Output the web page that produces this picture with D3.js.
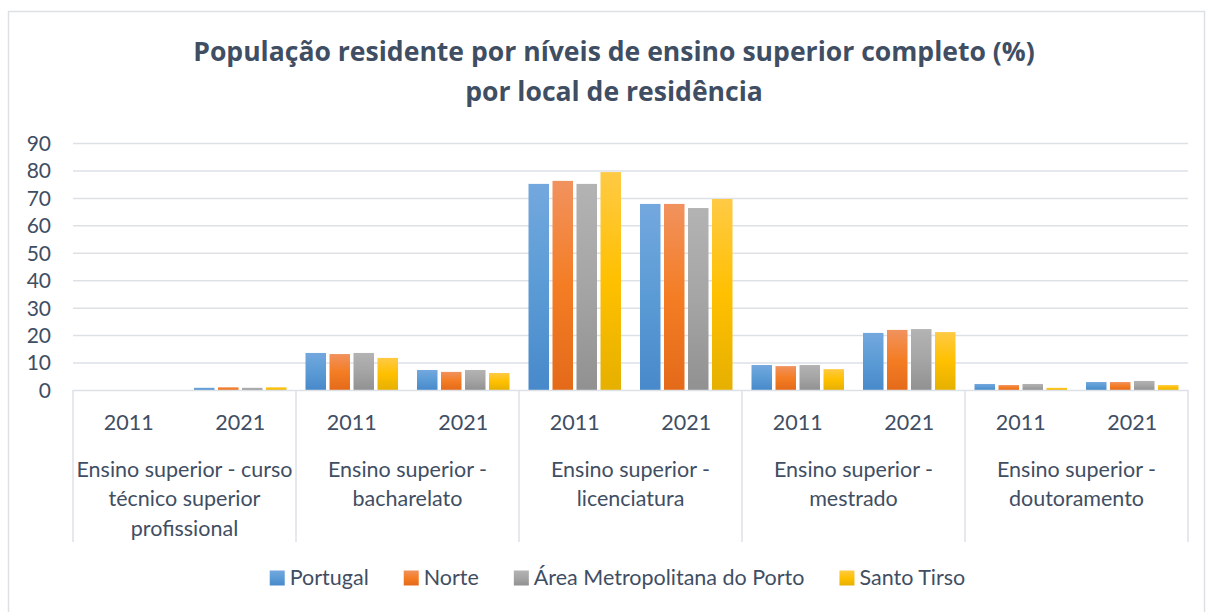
<!DOCTYPE html>
<html>
<head>
<meta charset="utf-8">
<script src="https://cdn.jsdelivr.net/npm/d3@7"></script>
<style>
  html, body { margin: 0; padding: 0; background: #fff; }
  svg { display: block; }
  text { font-family: Lato, "Liberation Sans", sans-serif; fill: #3f4e63; }
</style>
</head>
<body>
<svg id="chart" width="1208" height="612"></svg>
<script>
// ---- data ----
const groups = [
  "Ensino superior - curso técnico superior profissional",
  "Ensino superior - bacharelato",
  "Ensino superior - licenciatura",
  "Ensino superior - mestrado",
  "Ensino superior - doutoramento"
];
const groupLines = [
  ["Ensino superior - curso", "técnico superior", "profissional"],
  ["Ensino superior -", "bacharelato"],
  ["Ensino superior -", "licenciatura"],
  ["Ensino superior -", "mestrado"],
  ["Ensino superior -", "doutoramento"]
];
const years = ["2011", "2021"];
const seriesNames = ["Portugal", "Norte", "Área Metropolitana do Porto", "Santo Tirso"];
// values per series: [group][year]
const portugal = [[0, 0.8], [13.5, 7.3], [75.1, 67.8], [9.1, 20.8], [2.2, 2.9]];
const norte    = [[0, 1.0], [13.1, 6.6], [76.2, 67.8], [8.7, 21.9], [1.8, 2.9]];
const amp      = [[0, 0.8], [13.5, 7.3], [75.1, 66.3], [9.1, 22.2], [2.2, 3.3]];
const santoTirso = [[0, 1.0], [11.7, 6.2], [79.4, 69.6], [7.6, 21.1], [0.8, 1.8]];
const yTicks = [0, 10, 20, 30, 40, 50, 60, 70, 80, 90];
const titleLines = ["População residente por níveis de ensino superior completo (%)", "por local de residência"];

const seriesValues = [portugal, norte, amp, santoTirso];
const gradStops = [
  ["#73a8de", "#5b9bd5", "#4889cb"],
  ["#f1925e", "#f47d24", "#e46a1a"],
  ["#b3b3b3", "#a5a5a5", "#919191"],
  ["#ffca45", "#ffc000", "#e6b000"]
];

const svg = d3.select("#chart");
const lineColor = "#dde1e6";
const labelSize = 21.5;

// frame
svg.append("rect").attr("x", 8.5).attr("y", 11.5).attr("width", 1196).attr("height", 620)
  .attr("fill", "#fff").attr("stroke", "#dde1e6").attr("stroke-width", 1.5);

// gradients
const defs = svg.append("defs");
gradStops.forEach((st, i) => {
  const g = defs.append("linearGradient").attr("id", "grad" + i)
    .attr("x1", 0).attr("y1", 0).attr("x2", 0).attr("y2", 1);
  g.append("stop").attr("offset", "0%").attr("stop-color", st[0]);
  g.append("stop").attr("offset", "50%").attr("stop-color", st[1]);
  g.append("stop").attr("offset", "100%").attr("stop-color", st[2]);
});

// title
const titles = svg.append("g").selectAll("text").data(titleLines).join("text")
  .attr("x", 614).attr("y", (d, i) => 61 + i * 40)
  .attr("text-anchor", "middle")
  .style("font-family", "'Open Sans', sans-serif")
  .attr("font-size", 26).attr("font-weight", 700)
  .text(d => d);
// fit first title line to the reference width
const tw = titles.node().getComputedTextLength();
titles.attr("font-size", 26 * 842 / tw);

// scales
const x0 = d3.scaleBand().domain(groups).range([73, 1188]).padding(0);
const x1 = d3.scaleBand().domain(years).range([0, x0.bandwidth()]).padding(0);
const x2 = d3.scaleBand().domain(seriesNames).range([0, x1.bandwidth()])
  .paddingInner(0.146).paddingOuter(0.396);
const y = d3.scaleLinear().domain([0, 90]).range([390, 143]);

// gridlines
const yAxis = d3.axisLeft(y).tickValues(yTicks).tickSize(-(1188 - 73)).tickPadding(22);
const gy = svg.append("g").attr("transform", "translate(73,0)").call(yAxis);
gy.select(".domain").remove();
gy.selectAll(".tick line").attr("stroke", lineColor).attr("stroke-width", 1.5)
  .filter(d => d === 0).remove();
gy.selectAll(".tick text").attr("font-size", 21).attr("fill", "#3f4e63")
  .attr("font-family", "Lato, sans-serif").attr("dy", "0.35em");

// bars
const gGroups = svg.append("g").selectAll("g").data(groups).join("g")
  .attr("transform", d => `translate(${x0(d)},0)`);
const gYears = gGroups.selectAll("g").data((g, gi) => years.map((yr, yi) => ({gi, yi, yr}))).join("g")
  .attr("transform", d => `translate(${x1(d.yr)},0)`);
gYears.selectAll("rect").data(d => seriesNames.map((s, si) => ({s, si, v: seriesValues[si][d.gi][d.yi]})))
  .join("rect")
  .attr("x", d => x2(d.s))
  .attr("width", x2.bandwidth())
  .attr("y", d => y(d.v))
  .attr("height", d => y(0) - y(d.v))
  .attr("fill", d => `url(#grad${d.si})`);

// category axis
const axisG = svg.append("g");
axisG.append("line").attr("x1", 73).attr("x2", 1188).attr("y1", 390.5).attr("y2", 390.5)
  .attr("stroke", lineColor).attr("stroke-width", 1.5);
const boundaries = groups.map(g => x0(g)).concat([x0.range()[1]]);
axisG.selectAll("line.div").data(boundaries).join("line").attr("class", "div")
  .attr("x1", d => d).attr("x2", d => d).attr("y1", 390).attr("y2", 542)
  .attr("stroke", lineColor).attr("stroke-width", 1.5);

// year labels
groups.forEach(g => {
  years.forEach(yr => {
    axisG.append("text")
      .attr("x", x0(g) + x1(yr) + x1.bandwidth() / 2)
      .attr("y", 429.5)
      .attr("text-anchor", "middle").attr("font-size", labelSize)
      .text(yr);
  });
});
// group labels
groups.forEach((g, gi) => {
  axisG.append("text")
    .attr("text-anchor", "middle").attr("font-size", labelSize)
    .selectAll("tspan").data(groupLines[gi]).join("tspan")
    .attr("x", x0(g) + x0.bandwidth() / 2)
    .attr("y", (d, i) => 476.5 + i * 29.5)
    .text(d => d);
});

// legend
const legend = svg.append("g");
const items = legend.selectAll("g").data(seriesNames).join("g");
items.append("rect").attr("width", 15).attr("height", 15).attr("y", 570.5)
  .attr("fill", (d, i) => `url(#grad${i})`);
items.append("text").attr("x", 20).attr("y", 585).attr("font-size", labelSize).text(d => d);
let widths = [];
items.each(function() { widths.push(this.querySelector("text").getComputedTextLength() + 20); });
const gap = 35;
const total = d3.sum(widths) + gap * (widths.length - 1);
let cx = 617.5 - total / 2;
items.attr("transform", (d, i) => {
  const t = `translate(${cx},0)`;
  cx += widths[i] + gap;
  return t;
});
</script>
</body>
</html>
